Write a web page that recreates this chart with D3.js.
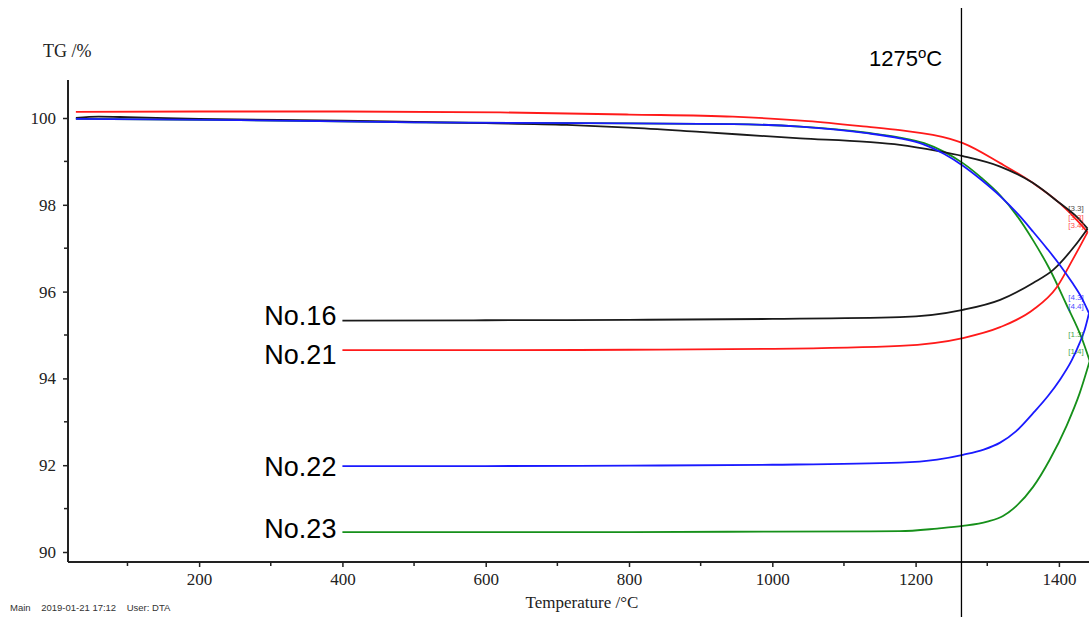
<!DOCTYPE html>
<html>
<head>
<meta charset="utf-8">
<script src="https://cdn.jsdelivr.net/npm/d3@7"></script>
<style>
    body { margin: 0; background: #fff; }
    svg { display: block; }
    .tick text { font-family: 'Liberation Serif', 'DejaVu Serif', serif; font-size: 17px; fill: #222; }
</style>
</head>
<body>
<div id="chart"></div>
<script>
// TG curves [temperature °C, mass %], heating branch then cooling branch
const heat16 = [[28, 100.0], [60, 100.03], [100, 100.02], [200, 99.98], [400, 99.94], [500, 99.91], [600, 99.88], [713, 99.84], [800, 99.78], [899, 99.68], [1039, 99.53], [1132, 99.45], [1178, 99.38], [1230, 99.24], [1266, 99.12], [1318, 98.88], [1364, 98.5], [1401, 98.04], [1425, 97.72], [1440, 97.45]]
const cool16 = [[400, 95.33], [600, 95.34], [800, 95.35], [1000, 95.37], [1178, 95.41], [1266, 95.58], [1318, 95.81], [1364, 96.2], [1392, 96.5], [1422, 97.05], [1440, 97.45]]

const heat21 = [[28, 100.14], [200, 100.15], [400, 100.15], [620, 100.13], [800, 100.08], [945, 100.03], [1050, 99.93], [1132, 99.8], [1178, 99.72], [1248, 99.52], [1266, 99.42], [1318, 98.96], [1364, 98.5], [1401, 98.04], [1429, 97.58], [1440, 97.37]]
const cool21 = [[400, 94.65], [600, 94.65], [800, 94.66], [1000, 94.68], [1178, 94.75], [1266, 94.93], [1318, 95.18], [1364, 95.58], [1397, 96.1], [1419, 96.73], [1429, 97.03], [1440, 97.37]]

const heat22 = [[28, 99.98], [257, 99.95], [500, 99.9], [733, 99.88], [945, 99.86], [1039, 99.8], [1132, 99.65], [1178, 99.53], [1210, 99.4], [1240, 99.17], [1266, 98.9], [1292, 98.57], [1318, 98.2], [1342, 97.8], [1364, 97.38], [1384, 96.98], [1401, 96.62], [1418, 96.22], [1432, 95.85], [1442, 95.5]]
const cool22 = [[400, 91.98], [600, 91.98], [800, 91.99], [1000, 92.01], [1178, 92.06], [1230, 92.13], [1266, 92.24], [1295, 92.36], [1318, 92.52], [1340, 92.78], [1364, 93.2], [1385, 93.6], [1401, 93.96], [1418, 94.42], [1429, 94.82], [1436, 95.12], [1442, 95.5]]

const heat23 = [[28, 99.98], [257, 99.95], [500, 99.9], [733, 99.88], [945, 99.86], [1039, 99.8], [1132, 99.66], [1178, 99.55], [1212, 99.42], [1240, 99.22], [1266, 98.96], [1292, 98.62], [1318, 98.22], [1340, 97.78], [1364, 97.18], [1387, 96.52], [1410, 95.72], [1433, 94.88], [1443, 94.4]]
const cool23 = [[400, 90.46], [600, 90.46], [800, 90.46], [1000, 90.47], [1178, 90.48], [1230, 90.54], [1266, 90.6], [1300, 90.7], [1322, 90.83], [1340, 91.05], [1364, 91.5], [1387, 92.12], [1411, 92.92], [1429, 93.66], [1443, 94.4]]

const sampleNames = ['No.16', 'No.21', 'No.22', 'No.23']
const sampleColors = ['#1a1a1a', '#ff1a1a', '#1a1aff', '#16901a']
const drawOrder = [3, 1, 0, 2]
const labelValues = [95.44, 94.54, 91.98, 90.55]
const stepLabels = [
    ['[3.3]', 0, 97.85], ['[3.3]', 1, 97.66], ['[3.4]', 1, 97.46],
    ['[4.3]', 2, 95.8], ['[4.4]', 2, 95.6],
    ['[1.3]', 3, 94.95], ['[1.4]', 3, 94.57],
]

const xTicks = [200, 400, 600, 800, 1000, 1200, 1400]
const yTicks = [90, 92, 94, 96, 98, 100]
const markerTemp = 1264 // line drawn by hand, labelled 1275
const markerLabel = '1275'

const curves = [
    [heat16, cool16], [heat21, cool21], [heat22, cool22], [heat23, cool23],
]

const WIDTH = 1089
const HEIGHT = 617
const MARGIN = { LEFT: 68, RIGHT: 0, TOP: 80, BOTTOM: 55 }

const svg = d3.select('#chart').append('svg')
    .attr('width', WIDTH)
    .attr('height', HEIGHT)

// scales fitted to the instrument plot
const x = d3.scaleLinear().domain([17, 1442]).range([MARGIN.LEFT, WIDTH])
const y = d3.scaleLinear().domain([90, 100]).range([552, 118])
const yBottom = HEIGHT - MARGIN.BOTTOM

svg.append('defs').append('clipPath').attr('id', 'plotclip')
    .append('rect')
    .attr('x', MARGIN.LEFT)
    .attr('y', 0)
    .attr('width', WIDTH - MARGIN.LEFT)
    .attr('height', yBottom)

// axes
const xAxis = svg.append('g')
    .attr('transform', `translate(0,${yBottom})`)
    .call(d3.axisBottom(x).tickValues(xTicks).tickSize(5).tickPadding(6).tickFormat(d3.format('d')))
xAxis.select('.domain').attr('d', `M${MARGIN.LEFT},0H${WIDTH}`).attr('stroke', '#222').attr('stroke-width', 2)
xAxis.selectAll('.tick line').attr('stroke', '#222').attr('stroke-width', 1.5)

xAxis.selectAll('.minor')
    .data(d3.range(100, 1500, 200))
    .join('line')
    .attr('class', 'minor')
    .attr('x1', (d) => x(d)).attr('x2', (d) => x(d))
    .attr('y1', 0).attr('y2', 4)
    .attr('stroke', '#222').attr('stroke-width', 1.5)

const yAxis = svg.append('g')
    .attr('transform', `translate(${MARGIN.LEFT},0)`)
    .call(d3.axisLeft(y).tickValues(yTicks).tickSize(5).tickPadding(7))
yAxis.select('.domain').attr('d', `M0,${MARGIN.TOP}V${yBottom}`).attr('stroke', '#222').attr('stroke-width', 2)
yAxis.selectAll('.tick line').attr('stroke', '#222').attr('stroke-width', 1.5)

yAxis.selectAll('.minor')
    .data([91, 93, 95, 97, 99])
    .join('line')
    .attr('class', 'minor')
    .attr('x1', -4).attr('x2', 0)
    .attr('y1', (d) => y(d)).attr('y2', (d) => y(d))
    .attr('stroke', '#222').attr('stroke-width', 1.5)

svg.append('text')
    .attr('x', 43).attr('y', 57)
    .attr('font-family', 'Liberation Serif, serif')
    .attr('font-size', 18)
    .attr('fill', '#222')
    .text('TG /%')

svg.append('text')
    .attr('x', 582).attr('y', 608)
    .attr('text-anchor', 'middle')
    .attr('font-family', 'Liberation Serif, serif')
    .attr('font-size', 17)
    .attr('fill', '#222')
    .text('Temperature /°C')

svg.append('text')
    .attr('x', 10).attr('y', 611)
    .attr('font-family', 'Liberation Sans, Arial, sans-serif')
    .attr('font-size', 9.5)
    .attr('fill', '#333')
    .attr('xml:space', 'preserve')
    .text('Main    2019-01-21 17:12    User: DTA')

// curves
const line = d3.line()
    .x((d) => x(d[0]))
    .y((d) => y(d[1]))
    .curve(d3.curveMonotoneX)

const plot = svg.append('g').attr('clip-path', 'url(#plotclip)')

drawOrder.forEach((i) => {
    curves[i].forEach((data) => {
        plot.append('path')
            .datum(data)
            .attr('d', line)
            .attr('fill', 'none')
            .attr('stroke', sampleColors[i])
            .attr('stroke-width', 1.8)
    })
})

plot.selectAll('.step')
    .data(stepLabels)
    .join('text')
    .attr('class', 'step')
    .attr('x', x(1413))
    .attr('y', (d) => y(d[2]))
    .attr('font-family', 'Liberation Sans, Arial, sans-serif')
    .attr('font-size', 8)
    .attr('fill', (d) => sampleColors[d[1]])
    .attr('opacity', 0.8)
    .text((d) => d[0])

// sample labels
svg.selectAll('.sample')
    .data(sampleNames)
    .join('text')
    .attr('class', 'sample')
    .attr('x', x(400) - 6)
    .attr('y', (d, i) => y(labelValues[i]))
    .attr('dy', '0.35em')
    .attr('text-anchor', 'end')
    .attr('font-family', 'Liberation Sans, Arial, sans-serif')
    .attr('font-size', 27)
    .attr('fill', '#000')
    .text((d) => d)

// marker line
svg.append('line')
    .attr('x1', x(markerTemp)).attr('x2', x(markerTemp))
    .attr('y1', 8).attr('y2', HEIGHT)
    .attr('stroke', '#000')
    .attr('stroke-width', 1.3)

const mark = svg.append('text')
    .attr('x', 869).attr('y', 66)
    .attr('font-family', 'Liberation Sans, Arial, sans-serif')
    .attr('font-size', 22)
    .attr('fill', '#000')
mark.append('tspan').text(markerLabel)
mark.append('tspan').attr('font-size', 15).attr('dy', -8).text('o')
mark.append('tspan').attr('dy', 8).text('C')
</script>
</body>
</html>
